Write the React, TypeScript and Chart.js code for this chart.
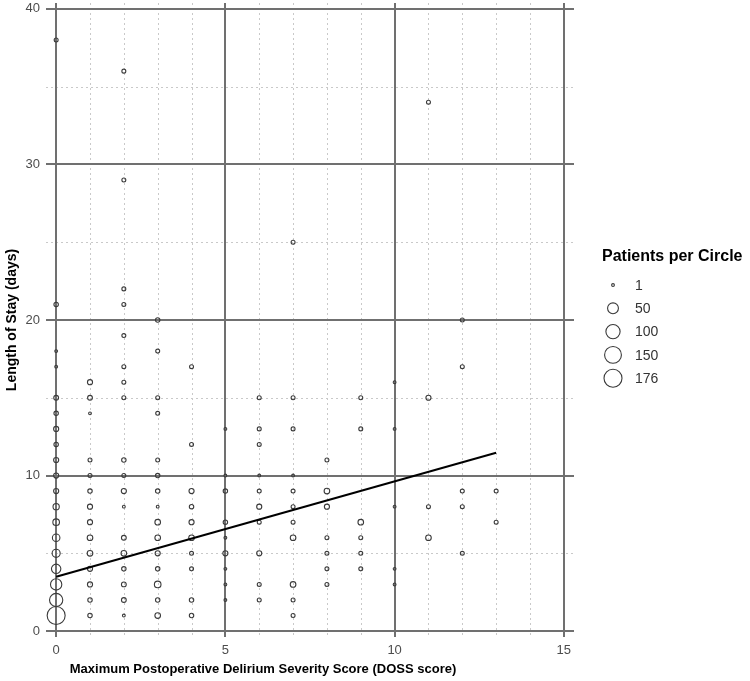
import { useEffect, useRef } from "react";
import { Chart, registerables } from "chart.js";

Chart.register(...registerables);

// Maximum postoperative DOSS score (x categories)
const dossScores = [0, 1, 2, 3, 4, 5, 6, 7, 8, 9, 10, 11, 12, 13];

// Length of stay (days) observed at each DOSS score
const stayByScore: number[][] = [
  [38, 21, 18, 17, 15, 14, 13, 12, 11, 10, 9, 8, 7, 6, 5, 4, 3, 2, 1],
  [16, 15, 14, 11, 10, 9, 8, 7, 6, 5, 4, 3, 2, 1],
  [36, 29, 22, 21, 19, 17, 16, 15, 11, 10, 9, 8, 6, 5, 4, 3, 2, 1],
  [20, 18, 15, 14, 11, 10, 9, 8, 7, 6, 5, 4, 3, 2, 1],
  [17, 12, 9, 8, 7, 6, 5, 4, 2, 1],
  [13, 10, 9, 7, 6, 5, 4, 3, 2],
  [15, 13, 12, 10, 9, 8, 7, 5, 3, 2],
  [25, 15, 13, 10, 9, 8, 7, 6, 3, 2, 1],
  [11, 9, 8, 6, 5, 4, 3],
  [15, 13, 7, 6, 5, 4],
  [16, 13, 8, 4, 3],
  [34, 15, 8, 6],
  [20, 17, 9, 8, 5],
  [9, 7],
];

// Number of patients sharing each (score, stay) pair
const patientsByScore: number[][] = [
  [2, 3, 1, 1, 4, 3, 5, 3, 5, 5, 5, 10, 12, 18, 22, 34, 56, 84, 176],
  [5, 4, 1, 2, 2, 3, 5, 5, 7, 7, 5, 5, 3, 3],
  [2, 2, 2, 2, 2, 2, 2, 2, 3, 2, 5, 1, 4, 7, 3, 4, 4, 1],
  [3, 2, 2, 2, 2, 3, 3, 1, 7, 7, 5, 3, 12, 3, 7],
  [2, 2, 5, 3, 5, 7, 2, 2, 3, 3],
  [1, 1, 3, 3, 1, 5, 1, 1, 1],
  [2, 2, 2, 1, 2, 5, 2, 5, 2, 2],
  [2, 2, 2, 1, 2, 2, 2, 7, 7, 2, 2],
  [2, 7, 5, 2, 2, 2, 2],
  [2, 2, 7, 2, 2, 2],
  [1, 1, 1, 1, 1],
  [2, 5, 2, 7],
  [2, 2, 2, 2, 2],
  [2, 2],
];

// Fitted trend line endpoints
const trendScore = [0, 13];
const trendStay = [3.49, 11.47];

// Axis ticks and guide lines
const xTickValues = [0, 5, 10, 15];
const yTickValues = [0, 10, 20, 30, 40];
const xMinorValues = [1, 2, 3, 4, 6, 7, 8, 9, 11, 12, 13, 14];
const yMinorValues = [5, 15, 25, 35];

// Size legend entries
const legendCounts = [1, 50, 100, 150, 176];

const X_TITLE = "Maximum Postoperative Delirium Severity Score (DOSS score)";
const FONT = "'Liberation Sans', Arial, sans-serif";
const MAX_COUNT = 176;
const R_MIN = 1.4;
const R_MAX = 9;

// Circle area scales with the patient count
const radiusFor = (n: number) =>
  R_MIN + (R_MAX - R_MIN) * Math.sqrt(Math.max(0, n - 1) / (MAX_COUNT - 1));

const minorGridPlugin = {
  id: "minorGrid",
  beforeDraw(chart: any) {
    const { ctx, chartArea, scales } = chart;
    ctx.save();
    ctx.strokeStyle = "#c9c9c9";
    ctx.lineWidth = 1;
    ctx.setLineDash([2, 3]);
    for (const v of xMinorValues) {
      const px = Math.round(scales.x.getPixelForValue(v)) + 0.5;
      ctx.beginPath();
      ctx.moveTo(px, chartArea.top);
      ctx.lineTo(px, chartArea.bottom);
      ctx.stroke();
    }
    for (const v of yMinorValues) {
      const py = Math.round(scales.y.getPixelForValue(v)) + 0.5;
      ctx.beginPath();
      ctx.moveTo(chartArea.left, py);
      ctx.lineTo(chartArea.right, py);
      ctx.stroke();
    }
    ctx.restore();
  },
};

const annotationPlugin = {
  id: "sizeLegend",
  afterDraw(chart: any) {
    const { ctx, chartArea } = chart;
    ctx.save();

    // x-axis title
    ctx.fillStyle = "#000";
    ctx.font = `bold 13px ${FONT}`;
    ctx.textAlign = "center";
    ctx.textBaseline = "middle";
    ctx.fillText(X_TITLE, 263, 669);

    // size legend
    const left = chartArea.right + 28;
    ctx.textAlign = "left";
    ctx.font = `bold 16px ${FONT}`;
    ctx.fillText("Patients per Circle", left, 257);
    const cx = left + 11;
    const rowGap = 23.3;
    legendCounts.forEach((n, i) => {
      const cy = 285 + i * rowGap;
      ctx.beginPath();
      ctx.arc(cx, cy, radiusFor(n), 0, Math.PI * 2);
      ctx.strokeStyle = "#3a3a3a";
      ctx.lineWidth = 1.1;
      ctx.stroke();
      ctx.fillStyle = "#333";
      ctx.font = `14px ${FONT}`;
      ctx.fillText(String(n), left + 33, cy + 1);
    });
    ctx.restore();
  },
};

export default function App() {
  const canvasRef = useRef<HTMLCanvasElement>(null);

  useEffect(() => {
    const points: { x: number; y: number; n: number }[] = [];
    dossScores.forEach((score, i) => {
      stayByScore[i].forEach((stay, j) => {
        points.push({ x: score, y: stay, n: patientsByScore[i][j] });
      });
    });

    const chart = new Chart(canvasRef.current!, {
      type: "scatter",
      data: {
        datasets: [
          {
            type: "line",
            data: trendScore.map((x, i) => ({ x, y: trendStay[i] })),
            borderColor: "#000",
            borderWidth: 2,
            pointRadius: 0,
            fill: false,
            order: 0,
          } as any,
          {
            data: points as any,
            pointRadius: (c: any) => radiusFor(c.raw.n),
            pointBackgroundColor: "rgba(0,0,0,0)",
            pointBorderColor: "#3a3a3a",
            pointBorderWidth: 1.1,
            order: 1,
          },
        ],
      },
      options: {
        responsive: false,
        maintainAspectRatio: false,
        animation: false,
        layout: { autoPadding: false, padding: { top: 3, right: 176, left: 0, bottom: 0 } },
        plugins: { legend: { display: false }, tooltip: { enabled: false } },
        scales: {
          x: {
            type: "linear",
            min: -0.3,
            max: 15.3,
            afterBuildTicks: (s: any) => {
              s.ticks = xTickValues.map((v) => ({ value: v }));
            },
            afterFit: (s: any) => {
              s.height = 44;
              s.paddingLeft = 0;
              s.paddingRight = 0;
            },
            grid: { color: "#707070", lineWidth: 2, drawTicks: false },
            border: { display: false },
            ticks: {
              color: "#4d4d4d",
              font: { family: FONT, size: 13 },
              padding: 6,
              maxRotation: 0,
              callback: (v: any) => String(v),
            },
          },
          y: {
            type: "linear",
            min: -0.38,
            max: 40.38,
            afterBuildTicks: (s: any) => {
              s.ticks = yTickValues.map((v) => ({ value: v }));
            },
            afterFit: (s: any) => {
              s.width = 46;
              s.paddingTop = 0;
              s.paddingBottom = 0;
            },
            grid: { color: "#707070", lineWidth: 2, drawTicks: false },
            border: { display: false },
            ticks: {
              color: "#4d4d4d",
              font: { family: FONT, size: 13 },
              padding: 6,
              callback: (v: any) => String(v),
            },
            title: {
              display: true,
              text: "Length of Stay (days)",
              color: "#000",
              font: { family: FONT, size: 14, weight: "bold" },
              padding: { top: 4, bottom: 0 },
            },
          },
        },
      },
      plugins: [minorGridPlugin, annotationPlugin],
    });

    return () => chart.destroy();
  }, []);

  return (
    <div style={{ position: "fixed", left: 0, top: 0, width: 750, height: 681, background: "#fff" }}>
      <canvas ref={canvasRef} width={750} height={681} style={{ width: 750, height: 681 }} />
    </div>
  );
}
